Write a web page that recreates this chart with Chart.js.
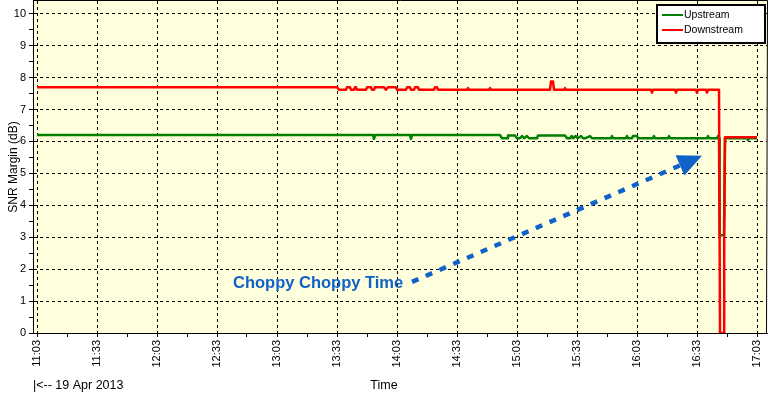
<!DOCTYPE html>
<html>
<head>
<meta charset="utf-8">
<script src="https://cdn.jsdelivr.net/npm/chart.js@4"></script>
<style>
html, body { margin: 0; padding: 0; background: #fff; }
#wrap { width: 768px; height: 394px; position: relative; }
</style>
</head>
<body>
<div id="wrap"><canvas id="snr"></canvas></div>
<script>
// x = minutes after 11:03 (19 Apr 2013), y = SNR margin in dB
const xTickLabels = ['11:03', '11:33', '12:03', '12:33', '13:03', '13:33', '14:03',
                     '14:33', '15:03', '15:33', '16:03', '16:33', '17:03'];
const yTickLabels = ['0', '1', '2', '3', '4', '5', '6', '7', '8', '9', '10'];

const seriesNames = ['Upstream', 'Downstream'];

const upstream = [
  [0, 6.2], [168, 6.2], [168.5, 6.08], [169, 6.2],
  [186.5, 6.2], [187, 6.08], [187.5, 6.2],
  [231.5, 6.2], [232.5, 6.1], [235, 6.1], [235.5, 6.19], [239, 6.19], [240, 6.1], [241.5, 6.1],
  [242.5, 6.17], [243.5, 6.1], [245, 6.17], [246, 6.1], [250, 6.1], [250.5, 6.19], [264, 6.19],
  [265, 6.1], [266.5, 6.1], [267.3, 6.17], [268, 6.1], [269.3, 6.17], [270.3, 6.1], [272, 6.17],
  [273, 6.1], [274, 6.1], [276.5, 6.17], [277.5, 6.1],
  [287, 6.1], [287.5, 6.17], [288, 6.1], [294.5, 6.1], [295, 6.17], [295.5, 6.1],
  [297.5, 6.1], [298, 6.17], [300, 6.17], [300.5, 6.1], [308, 6.1], [308.5, 6.17], [309, 6.1],
  [315.5, 6.1], [316, 6.17], [316.5, 6.1], [335, 6.1], [335.5, 6.17], [336, 6.1],
  [340, 6.1], [340.5, 6.17], [341, 6.1], [341.3, 3.06], [343.5, 3.06], [344, 6.1],
  [355, 6.1], [355.5, 6.04], [356, 6.1], [360, 6.1]
];

const downstream = [
  [0, 7.7], [150, 7.7], [151, 7.62],
  [154.5, 7.62], [155, 7.7], [156.5, 7.7], [157, 7.62],
  [158.5, 7.62], [159, 7.7], [159.5, 7.7], [160, 7.62],
  [164.5, 7.62], [165, 7.7], [167, 7.7], [167.5, 7.62],
  [168.5, 7.62], [169, 7.7], [173.5, 7.7], [174.5, 7.62], [175.5, 7.7], [179.5, 7.7], [180, 7.62],
  [184.5, 7.62], [185, 7.7], [186.5, 7.7], [187, 7.62],
  [188.5, 7.62], [189, 7.7], [190.5, 7.7], [191, 7.62],
  [198.5, 7.62], [199, 7.7], [200, 7.7], [200.5, 7.62],
  [215, 7.62], [215.5, 7.67], [216, 7.62], [226, 7.62], [226.5, 7.67], [227, 7.62],
  [256.5, 7.62], [257, 7.88], [258, 7.88], [258.5, 7.62],
  [263.5, 7.62], [264, 7.67], [264.5, 7.62],
  [307, 7.62], [307.5, 7.53], [308, 7.62], [319, 7.62], [319.5, 7.53], [320, 7.62],
  [329.5, 7.62], [330, 7.53], [330.5, 7.62], [334.5, 7.62], [335, 7.53], [335.5, 7.62],
  [341, 7.62], [341.5, 0], [343.5, 0], [343.6, 3.06], [344, 6.13], [360, 6.13]
];

// annotation anchors in data units [minutes, dB]
const noteText = 'Choppy Choppy Time';
const noteAt = [98, 1.41];
const arrowFrom = [187.5, 1.6];
const arrowTo = [332.5, 5.55];

const xMin = -2, xMax = 365, yMin = 0, yMax = 10.4;

const toMin = s => { const [h, m] = s.split(':').map(Number); return h * 60 + m; };
const t0 = toMin(xTickLabels[0]);
const xMajor = new Map(xTickLabels.map(l => [toMin(l) - t0, l]));
const xTicks = [];
xMajor.forEach((l, v) => { xTicks.push(v); if (v + 15 <= xMax) xTicks.push(v + 15); });
const yTicks = [];
yTickLabels.forEach(l => { const v = Number(l); yTicks.push(v); if (v + 0.5 <= yMax) yTicks.push(v + 0.5); });

const font = 'Liberation Sans';

const decor = {
  id: 'decor',
  beforeDraw(chart) {
    const { ctx, chartArea: a } = chart;
    ctx.save();
    ctx.fillStyle = '#ffffde';
    ctx.fillRect(a.left, a.top, a.right - a.left, a.bottom - a.top);
    ctx.restore();
  },
  afterDatasetsDraw(chart) {
    const { ctx, scales: { x, y } } = chart;
    const blue = '#1061c8';
    const x0 = x.getPixelForValue(arrowFrom[0]), y0 = y.getPixelForValue(arrowFrom[1]);
    const x1 = x.getPixelForValue(arrowTo[0]), y1 = y.getPixelForValue(arrowTo[1]);
    const ang = Math.atan2(y1 - y0, x1 - x0);
    const headLen = 24, headHalf = 11;
    const bx = x1 - headLen * Math.cos(ang), by = y1 - headLen * Math.sin(ang);
    ctx.save();
    ctx.strokeStyle = blue;
    ctx.lineWidth = 4.5;
    ctx.setLineDash([7, 8]);
    ctx.beginPath();
    ctx.moveTo(x0, y0);
    ctx.lineTo(bx, by);
    ctx.stroke();
    ctx.setLineDash([]);
    ctx.fillStyle = blue;
    ctx.beginPath();
    ctx.moveTo(x1, y1);
    ctx.lineTo(bx + headHalf * Math.sin(ang), by - headHalf * Math.cos(ang));
    ctx.lineTo(bx - headHalf * Math.sin(ang), by + headHalf * Math.cos(ang));
    ctx.closePath();
    ctx.fill();
    ctx.font = 'bold 16.5px "' + font + '"';
    ctx.textBaseline = 'alphabetic';
    ctx.textAlign = 'left';
    ctx.fillText(noteText, x.getPixelForValue(noteAt[0]), y.getPixelForValue(noteAt[1]));
    ctx.restore();
  },
  afterDraw(chart) {
    const { ctx, chartArea: a } = chart;
    ctx.save();
    ctx.strokeStyle = '#000';
    ctx.lineWidth = 1;
    ctx.beginPath();
    ctx.moveTo(a.left, 0.5);
    ctx.lineTo(a.right + 0.5, 0.5);
    ctx.lineTo(a.right - 0.5, a.bottom);
    ctx.stroke();

    // legend box
    const lx = 657, ly = 5, lw = 108, lh = 38;
    ctx.fillStyle = '#fff';
    ctx.fillRect(lx, ly, lw, lh);
    ctx.lineWidth = 2;
    ctx.strokeRect(lx, ly, lw, lh);
    ctx.font = '10.5px "' + font + '"';
    ctx.textBaseline = 'middle';
    ctx.textAlign = 'left';
    chart.data.datasets.forEach((ds, i) => {
      const yy = ly + 10 + i * 15;
      ctx.strokeStyle = ds.borderColor;
      ctx.lineWidth = 2;
      ctx.beginPath();
      ctx.moveTo(lx + 5, yy);
      ctx.lineTo(lx + 26, yy);
      ctx.stroke();
      ctx.fillStyle = '#000';
      ctx.fillText(ds.label, lx + 27, yy + 0.5);
    });

    // axis titles and date note
    ctx.fillStyle = '#000';
    ctx.font = '12.5px "' + font + '"';
    ctx.textAlign = 'center';
    ctx.textBaseline = 'middle';
    ctx.fillText('Time', 384, 386);
    ctx.textAlign = 'left';
    ctx.fillText('|<-- 19 Apr 2013', 33, 386);
    ctx.font = '12px "' + font + '"';
    ctx.translate(14, 167);
    ctx.rotate(-Math.PI / 2);
    ctx.textAlign = 'center';
    ctx.fillText('SNR Margin (dB)', 0, 0);
    ctx.restore();
  }
};

const pts = arr => arr.map(([x, y]) => ({ x, y }));

new Chart(document.getElementById('snr'), {
  type: 'line',
  data: {
    datasets: [
      { label: seriesNames[0], data: pts(upstream), borderColor: '#008000', order: 2 },
      { label: seriesNames[1], data: pts(downstream), borderColor: '#ff0000', order: 1 }
    ]
  },
  options: {
    responsive: true,
    maintainAspectRatio: false,
    animation: false,
    layout: { padding: { top: 1, right: 1, left: 0, bottom: 0 } },
    elements: {
      line: { borderWidth: 2.5, tension: 0, fill: false, borderJoinStyle: 'round' },
      point: { radius: 0 }
    },
    plugins: { legend: { display: false }, tooltip: { enabled: false } },
    scales: {
      x: {
        type: 'linear',
        min: xMin,
        max: xMax,
        afterBuildTicks: s => { s.ticks = xTicks.map(v => ({ value: v })); },
        afterFit: s => { s.height = 61; s.paddingLeft = 0; s.paddingRight = 0; },
        grid: {
          color: c => (c.tick && xMajor.has(c.tick.value)) ? '#000' : 'rgba(0,0,0,0)',
          tickColor: '#000',
          tickLength: 4,
          lineWidth: 1
        },
        border: { display: true, color: '#000', width: 1, dash: [3, 3] },
        ticks: {
          autoSkip: false,
          minRotation: 90,
          maxRotation: 90,
          padding: 3,
          color: '#000',
          font: { family: font, size: 11 },
          callback: v => xMajor.get(v) || ''
        }
      },
      y: {
        type: 'linear',
        min: yMin,
        max: yMax,
        afterBuildTicks: s => { s.ticks = yTicks.map(v => ({ value: v })); },
        afterFit: s => { s.width = 33; s.paddingTop = 0; s.paddingBottom = 0; },
        grid: {
          color: c => (c.tick && Number.isInteger(c.tick.value)) ? '#000' : 'rgba(0,0,0,0)',
          tickColor: '#000',
          tickLength: 4,
          lineWidth: 1
        },
        border: { display: true, color: '#000', width: 1, dash: [3, 3] },
        ticks: {
          padding: 3,
          color: '#000',
          font: { family: font, size: 11 },
          callback: v => Number.isInteger(v) ? yTickLabels[v] : ''
        }
      }
    }
  },
  plugins: [decor]
});
</script>
</body>
</html>
